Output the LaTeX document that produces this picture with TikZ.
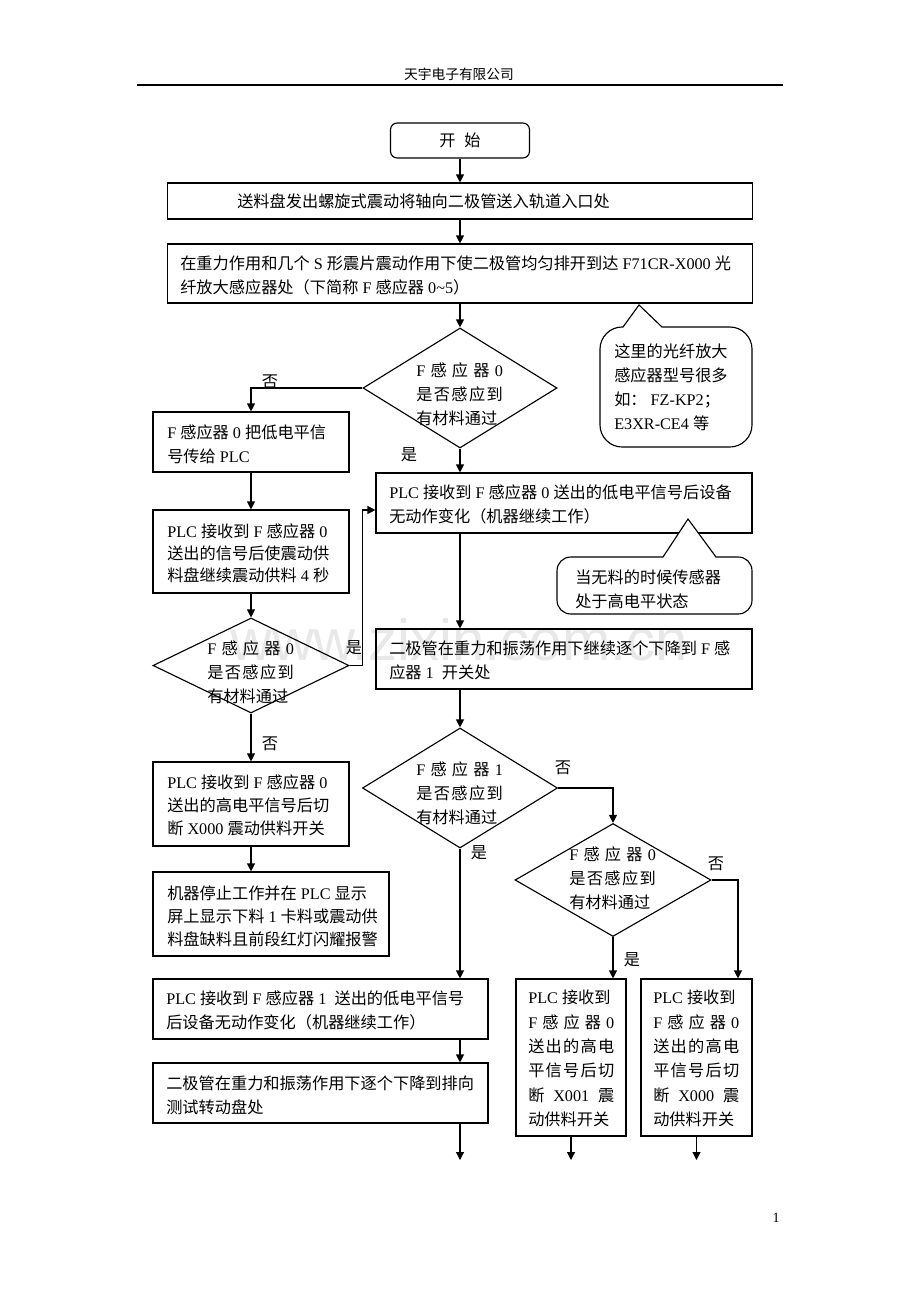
\documentclass[tikz,border=0pt]{standalone}
\usepackage{fontspec}
\setmainfont{Liberation Serif}
\newfontfamily\cjk{Noto Sans CJK SC}
\newfontfamily\wmfont{Liberation Sans}
\usetikzlibrary{shapes.geometric,arrows.meta,calc}
\XeTeXinterchartokenstate=1
\newXeTeXintercharclass\CJKcls
\makeatletter
\def\setcjkrange#1#2{\count@=#1\relax\loop\XeTeXcharclass\count@=\CJKcls\advance\count@ 1\relax\ifnum\count@<#2\relax\repeat}
\makeatother
\setcjkrange{"3000}{"3040}
\setcjkrange{"4E00}{"A000}
\setcjkrange{"FF00}{"FFF0}
\XeTeXinterchartoks 0 \CJKcls = {\cjk}
\XeTeXinterchartoks 4095 \CJKcls = {\cjk}
\XeTeXinterchartoks \CJKcls 0 = {\rmfamily}
\XeTeXinterchartoks \CJKcls 4095 = {\rmfamily}
\newcommand\fsz[1]{\fontsize{12.15}{#1}\selectfont}
\tikzset{
  box/.style={draw, line width=0.85pt, rectangle, inner sep=0pt, font=\fsz{18}},
  dia/.style={draw, line width=0.85pt, diamond, inner sep=0pt},
  arr/.style={line width=0.85pt, -{Triangle[length=6pt,width=6pt]}},
  ln/.style={line width=0.85pt},
  txt/.style={anchor=west, align=left, inner sep=0pt, font=\fsz{18}},
  lab/.style={inner sep=0pt, font=\fsz{18}},
}
\begin{document}
\begin{tikzpicture}[x=0.75pt,y=-0.75pt]
\useasboundingbox (0,0) rectangle (920,1302);
% watermark
\node[font=\wmfont\fontsize{43.5}{50}\selectfont, text=black!9, inner sep=0pt] (wm) at (459,640) {www.zixin.com.cn};
% header
\node[inner sep=0pt, font=\fontsize{10.3}{12}\selectfont] (hdr) at (459,74) {天宇电子有限公司};
\coordinate (rl) at (137,85); \coordinate (rr) at (783,85);
\draw[line width=1.1pt] (rl) -- (rr);
\node[inner sep=0pt, font=\fontsize{10.5}{12}\selectfont] (pg) at (776,1218) {1};

% boxes
\node[box, rounded corners=5pt, minimum width=104.25pt, minimum height=26.25pt] (start) at (460,140.5) {开\hspace{0.55em}始};
\node[box, minimum width=438.75pt, minimum height=27pt] (b1) at (460,201) {};
\node[box, minimum width=438.75pt, minimum height=44.25pt] (b2) at (460,273.5) {};
\node[box, minimum width=147pt, minimum height=45pt] (b5) at (251,442) {};
\node[box, minimum width=282pt, minimum height=45pt] (b3) at (564,503) {};
\node[box, minimum width=147pt, minimum height=62.25pt] (b6) at (251,551.5) {};
\node[box, minimum width=282pt, minimum height=45pt] (b4) at (564,659) {};
\node[box, minimum width=147pt, minimum height=63pt] (b10) at (251,804) {};
\node[box, minimum width=177pt, minimum height=63pt] (b11) at (271,914) {};
\node[box, minimum width=251.25pt, minimum height=45pt] (b7) at (320.5,1009) {};
\node[box, minimum width=251.25pt, minimum height=45pt] (b8) at (320.5,1093) {};
\node[box, minimum width=82.5pt, minimum height=117.75pt] (rb1) at (571,1057.5) {};
\node[box, minimum width=83.25pt, minimum height=117.75pt] (rb2) at (696.5,1057.5) {};

% diamonds
\node[dia, minimum width=145.5pt, minimum height=90pt] (d1) at (460,388) {};
\node[dia, minimum width=146.25pt, minimum height=90pt] (d2) at (460,788) {};
\node[dia, minimum width=147pt, minimum height=84.75pt] (d3) at (613,880) {};
\node[dia, minimum width=147pt, minimum height=71.25pt] (d4) at (251,665.5) {};

% texts
\node[txt] (t1) at (237,201) {送料盘发出螺旋式震动将轴向二极管送入轨道入口处};
\node[txt] (t2) at (180,275) {在重力作用和几个 S 形震片震动作用下使二极管均匀排开到达 F71CR-X000 光\\纤放大感应器处（下简称 F 感应器 0\char`\~5）};
\node[txt] (t5) at (167,444) {F 感应器 0 把低电平信\\号传给 PLC};
\node[txt] (t3) at (389,504) {PLC 接收到 F 感应器 0 送出的低电平信号后设备\\无动作变化（机器继续工作）};
\node[txt, font=\fsz{16.5}] (t6) at (167,553) {PLC 接收到 F 感应器 0\\送出的信号后使震动供\\料盘继续震动供料 4 秒};
\node[txt] (t4) at (389,660) {二极管在重力和振荡作用下继续逐个下降到 F 感\\应器 1\ \ 开关处};
\node[txt, font=\fsz{17.25}] (t10) at (167,805) {PLC 接收到 F 感应器 0\\送出的高电平信号后切\\断 X000 震动供料开关};
\node[txt, font=\fsz{17.25}] (t11) at (167,916) {机器停止工作并在 PLC 显示\\屏上显示下料 1 卡料或震动供\\料盘缺料且前段红灯闪耀报警};
\node[txt] (t7) at (166,1010) {PLC 接收到 F 感应器 1\ \ 送出的低电平信号\\后设备无动作变化（机器继续工作）};
\node[txt] (t8) at (166,1095) {二极管在重力和振荡作用下逐个下降到排向\\测试转动盘处};
\node[txt, font=\fsz{18.2}] (tr1) at (528,1058.5) {PLC 接收到\\\makebox[64.5pt][s]{F\hfil 感\hfil 应\hfil 器\hfil 0}\\\makebox[64.5pt][s]{送\hfil 出\hfil 的\hfil 高\hfil 电}\\\makebox[64.5pt][s]{平\hfil 信\hfil 号\hfil 后\hfil 切}\\\makebox[64.5pt][s]{断\hfil X001\hfil 震}\\动供料开关};
\node[txt, font=\fsz{18.2}] (tr2) at (653,1058.5) {PLC 接收到\\\makebox[64.5pt][s]{F\hfil 感\hfil 应\hfil 器\hfil 0}\\\makebox[64.5pt][s]{送\hfil 出\hfil 的\hfil 高\hfil 电}\\\makebox[64.5pt][s]{平\hfil 信\hfil 号\hfil 后\hfil 切}\\\makebox[64.5pt][s]{断\hfil X000\hfil 震}\\动供料开关};
\node[txt] (td1) at (416,394) {\makebox[65pt][s]{F\hfil 感\hfil 应\hfil 器\hfil 0}\\\makebox[65pt][s]{是\hfil 否\hfil 感\hfil 应\hfil 到}\\有材料通过};
\node[txt] (td2) at (416,793) {\makebox[65pt][s]{F\hfil 感\hfil 应\hfil 器\hfil 1}\\\makebox[65pt][s]{是\hfil 否\hfil 感\hfil 应\hfil 到}\\有材料通过};
\node[txt] (td3) at (569,878) {\makebox[65pt][s]{F\hfil 感\hfil 应\hfil 器\hfil 0}\\\makebox[65pt][s]{是\hfil 否\hfil 感\hfil 应\hfil 到}\\有材料通过};
\node[txt] (td4) at (207,672) {\makebox[65pt][s]{F\hfil 感\hfil 应\hfil 器\hfil 0}\\\makebox[65pt][s]{是\hfil 否\hfil 感\hfil 应\hfil 到}\\有材料通过};

% labels
\node[lab] (l1) at (270,382) {否};
\node[lab] (l2) at (409,455) {是};
\node[lab] (l3) at (354,648) {是};
\node[lab] (l4) at (270,744) {否};
\node[lab] (l5) at (563,768) {否};
\node[lab] (l6) at (479,853) {是};
\node[lab] (l7) at (716,864) {否};
\node[lab] (l8) at (632,960) {是};

% connectors
\draw[arr] (start) -- (b1);
\draw[arr] (b1) -- (b2);
\draw[arr] (b2.south) -- (d1.north);
\draw[arr] (d1.west) -| (b5.north);
\draw[arr] (d1.south) -- (d1.south |- b3.north);
\draw[arr] (b5) -- (b6);
\draw[arr] (b6) -- (d4);
\draw[arr] (d4.east) -- ++(13,0) |- ([yshift=-5.25pt]b3.west);
\draw[arr] (d4.south) -- (b10.north);
\draw[arr] (b10.south) -- (b10.south |- b11.north);
\draw[arr] (b3.south -| d1.south) -- (b4.north -| d1.south);
\draw[arr] (b4.south -| d2.north) -- (d2.north);
\draw[arr] (d2.east) -| (d3.north);
\draw[arr] (d2.south) -- (d2.south |- b7.north);
\draw[arr] (d3.south) -- (d3.south |- rb1.north);
\draw[arr] (d3.east) -| ([xshift=31.125pt]rb2.north);
\draw[arr] (b7.south -| d2.south) -- (b8.north -| d2.south);
\coordinate (e1) at (460,1160);
\coordinate (e2) at (571,1160);
\coordinate (e3) at (696.5,1160);
\draw[arr] (b8.south -| e1) -- (e1);
\draw[arr] (rb1.south) -- (e2);
\draw[arr] (rb2.south) -- (e3);

% callouts
\draw[ln, fill=white] (623,327) -- (639,305) -- (662,327) -- (730,327)
  .. controls (742,327) and (752,337) .. (752,349) -- (752,425)
  .. controls (752,437) and (742,447) .. (730,447) -- (622,447)
  .. controls (610,447) and (600,437) .. (600,425) -- (600,349)
  .. controls (600,337) and (610,327) .. (622,327) -- cycle;
\node[txt] (c1) at (614,387) {这里的光纤放大\\感应器型号很多\\如：\ FZ-KP2；\\E3XR-CE4 等};
\draw[ln, fill=white] (663,557) -- (688,519) -- (716,557) -- (738,557)
  .. controls (746,557) and (752,563) .. (752,571) -- (752,600)
  .. controls (752,608) and (746,614) .. (738,614) -- (571,614)
  .. controls (563,614) and (557,608) .. (557,600) -- (557,571)
  .. controls (557,563) and (563,557) .. (571,557) -- cycle;
\node[txt] (c2) at (575,589) {当无料的时候传感器\\处于高电平状态};
\end{tikzpicture}
\end{document}
